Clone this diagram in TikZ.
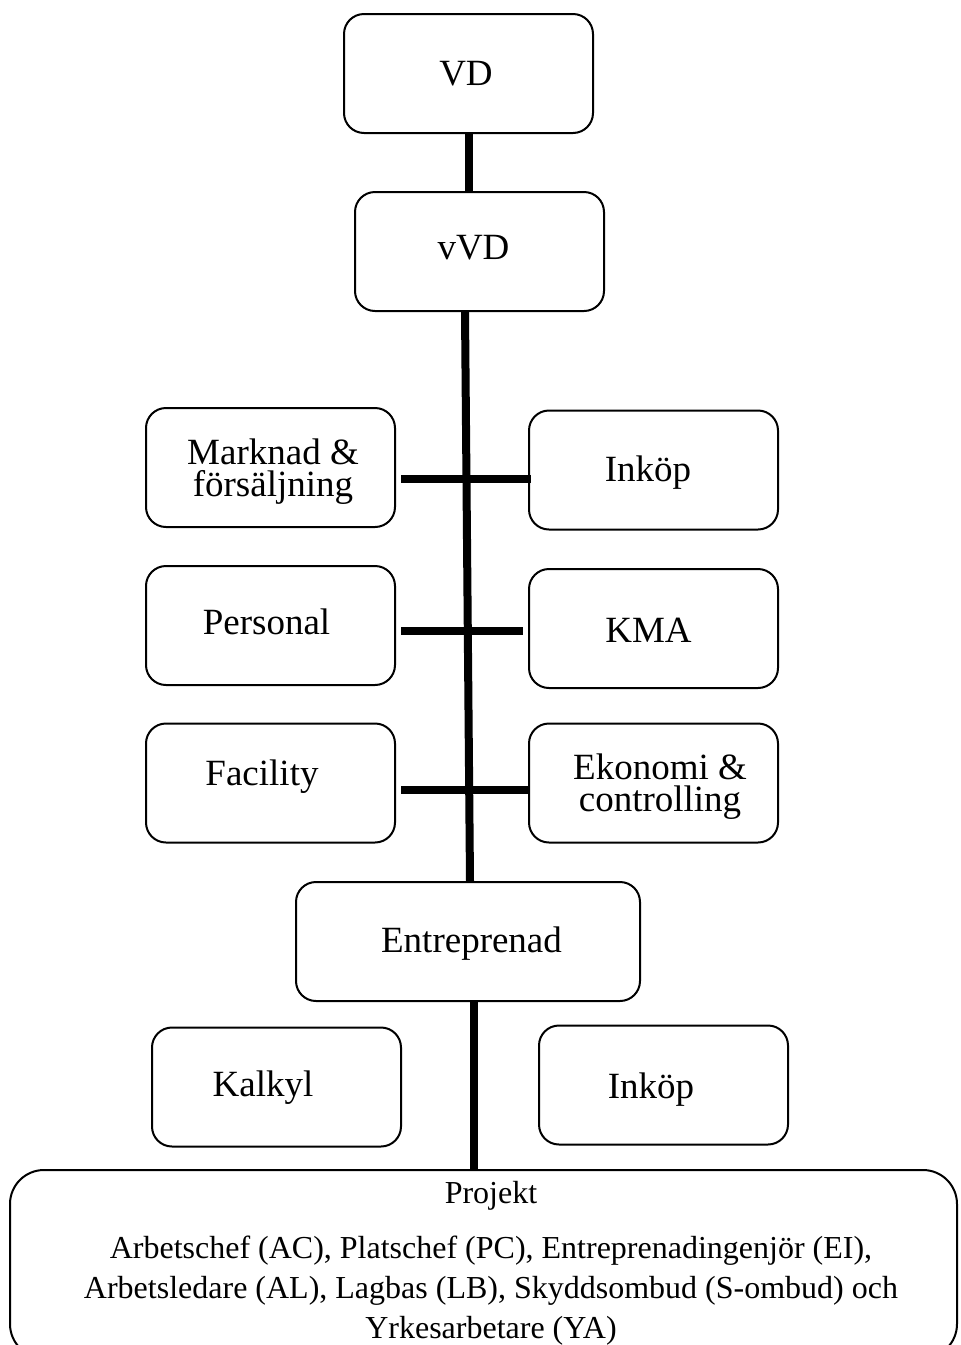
\documentclass[tikz,border=0pt]{standalone}
\usepackage{fontspec}
\setmainfont{Liberation Serif}
\usetikzlibrary{calc}
\begin{document}
\begin{tikzpicture}[x=0.5pt,y=-0.5pt,
  unit box/.style={draw=black, line width=1pt, rounded corners=10pt,
    minimum width=124.5pt, minimum height=59.5pt, inner sep=0pt},
  wide box/.style={unit box, minimum width=172pt},
  big box/.style={draw=black, line width=1pt, rounded corners=17pt,
    minimum width=473.5pt, minimum height=94pt, inner sep=0pt},
  boxtext/.style={anchor=base, inner sep=0pt, align=center,
    font=\fontsize{18.5pt}{16pt}\selectfont},
  listtext/.style={anchor=base, inner sep=0pt, align=center,
    font=\fontsize{16pt}{20pt}\selectfont},
  conn/.style={line width=4pt, line cap=butt}]
\useasboundingbox (0,0) rectangle (960,1345);

% boxes
\node[unit box] (vd)   at (468.5,73.5) {};
\node[unit box] (vvd)  at (479.5,251.5) {};
\node[unit box] (mark) at (270.5,467.5) {};
\node[unit box] (ink)  at (653.5,470) {};
\node[unit box] (pers) at (270.5,625.5) {};
\node[unit box] (kma)  at (653.5,628.5) {};
\node[unit box] (fac)  at (270.5,783) {};
\node[unit box] (eko)  at (653.5,783) {};
\node[wide box] (ent)  at (468,941.5) {};
\node[unit box] (kalk) at (276.5,1087) {};
\node[unit box] (ink2) at (663.5,1085) {};
\node[big box]  (proj) at (483.5,1264) {};

% labels (base anchor sits on the last line's baseline)
\node[boxtext] (vd-t)   at (466,85)     {VD};
\node[boxtext] (vvd-t)  at (473.5,259)  {vVD};
\node[boxtext] (mark-t) at (273,496)    {Marknad \&\\försäljning};
\node[boxtext] (ink-t)  at (648,481)    {Inköp};
\node[boxtext] (pers-t) at (266.5,634)  {Personal};
\node[boxtext] (kma-t)  at (648.5,642)  {KMA};
\node[boxtext] (fac-t)  at (262,785)    {Facility};
\node[boxtext] (eko-t)  at (660,811)    {Ekonomi \&\\controlling};
\node[boxtext] (ent-t)  at (471.5,952)  {Entreprenad};
\node[boxtext] (kalk-t) at (263,1096)   {Kalkyl};
\node[boxtext] (ink2-t) at (651,1098)   {Inköp};
\node[listtext] (proj-t) at (491,1338)  {Projekt\\[7.5pt]
  Arbetschef (AC), Platschef (PC), Entreprenadingenjör (EI),\\
  Arbetsledare (AL), Lagbas (LB), Skyddsombud (S-ombud) och\\
  Yrkesarbetare (YA)};

% connectors
\draw[conn] (vd.south) -- (vd.south |- vvd.north);
\draw[conn] ($(vvd.south)+(-14.5,0)$) -- ($(ent.north)+(2,0)$);
\draw[conn] ($(mark.east)+(5,11.5)$) -- ($(ink.west)+(3,9)$);
\draw[conn] ($(pers.east)+(5,5.5)$) -- ($(kma.west)+(-5,2.5)$);
\draw[conn] ($(fac.east)+(5,7)$) -- ($(eko.west)+(1,7)$);
\draw[conn] ($(ent.south)+(6,0)$) -- ($(proj.north)+(-9.5,0)$);
\end{tikzpicture}
\end{document}
